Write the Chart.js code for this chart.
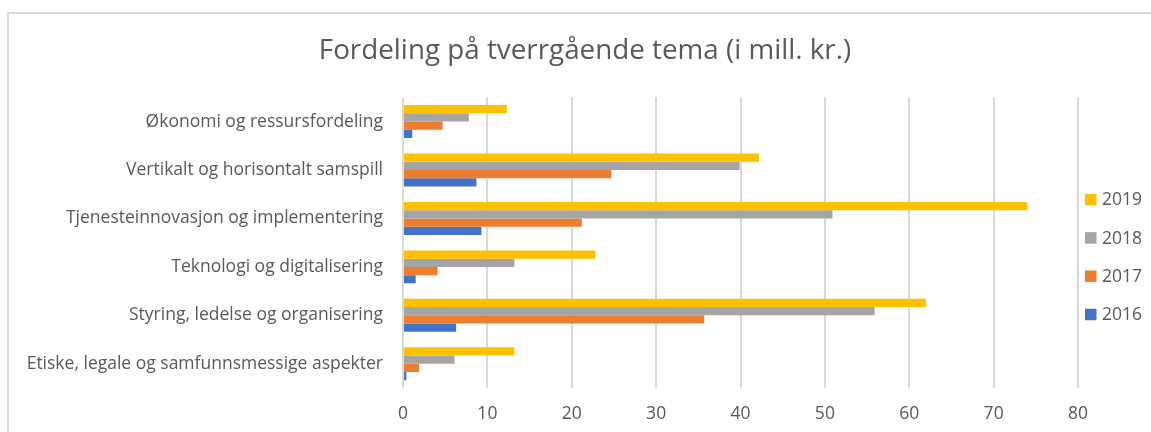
<!DOCTYPE html>
<html lang="no">
<head>
<meta charset="UTF-8">
<title>Fordeling på tverrgående tema</title>
<script src="https://cdn.jsdelivr.net/npm/chart.js@4.4.1/dist/chart.umd.min.js"></script>
<style>
  html, body { margin: 0; padding: 0; background: #fff; }
  #wrap { position: relative; width: 1151px; height: 432px; }
</style>
</head>
<body>
<div id="wrap"><canvas id="tema"></canvas></div>
<script>
const temaer = [
  'Økonomi og ressursfordeling',
  'Vertikalt og horisontalt samspill',
  'Tjenesteinnovasjon og implementering',
  'Teknologi og digitalisering',
  'Styring, ledelse og organisering',
  'Etiske, legale og samfunnsmessige aspekter'
];
const aar2019 = [12.3, 42.2, 74.0, 22.8, 62.0, 13.2];
const aar2018 = [7.8, 39.9, 50.9, 13.2, 55.9, 6.1];
const aar2017 = [4.7, 24.7, 21.2, 4.1, 35.7, 1.9];
const aar2016 = [1.1, 8.7, 9.3, 1.5, 6.3, 0.4];

const tekst = '#595959';
const grid = '#d9d9d9';
const font = "'Open Sans', sans-serif";

// tynn ramme oppe og til venstre
const ramme = {
  id: 'ramme',
  beforeDraw(chart) {
    const c = chart.ctx;
    c.save();
    c.strokeStyle = grid;
    c.lineWidth = 2;
    c.beginPath();
    c.moveTo(8, chart.height);
    c.lineTo(8, 13);
    c.lineTo(chart.width, 13);
    c.stroke();
    c.restore();
  }
};

// egen forklaring til høyre, tettere på plottet enn den innebygde
const forklaring = {
  id: 'forklaring',
  afterDraw(chart) {
    const c = chart.ctx;
    const a = chart.chartArea;
    const x = a.right + 7;
    let y = a.top + 102;
    c.save();
    c.font = "17.5px 'Open Sans', sans-serif";
    c.textBaseline = 'middle';
    chart.data.datasets.forEach(ds => {
      c.fillStyle = ds.backgroundColor;
      c.fillRect(x, y - 5.5, 11.5, 11.5);
      c.fillStyle = tekst;
      c.fillText(ds.label, x + 17, y + 1);
      y += 38.3;
    });
    c.restore();
  }
};

new Chart(document.getElementById('tema'), {
  type: 'bar',
  data: {
    labels: temaer,
    datasets: [
      { label: '2019', data: aar2019, backgroundColor: '#FFC000' },
      { label: '2018', data: aar2018, backgroundColor: '#A5A5A5' },
      { label: '2017', data: aar2017, backgroundColor: '#ED7D31' },
      { label: '2016', data: aar2016, backgroundColor: '#4472C4' }
    ]
  },
  options: {
    indexAxis: 'y',
    responsive: true,
    maintainAspectRatio: false,
    animation: false,
    datasets: { bar: { categoryPercentage: 0.68, barPercentage: 1.0 } },
    layout: { padding: { top: 14, right: 0, bottom: 0, left: 19 } },
    plugins: {
      title: {
        display: true,
        text: 'Fordeling på tverrgående tema (i mill. kr.)',
        color: tekst,
        font: { family: font, size: 27.8, weight: 'normal', lineHeight: 1.2 },
        padding: { top: 20.5, bottom: 29.5 }
      },
      legend: { display: false },
      tooltip: { enabled: false }
    },
    scales: {
      x: {
        min: 0,
        max: 80,
        ticks: { stepSize: 10, color: tekst, font: { family: font, size: 17.5 }, padding: 16 },
        grid: { color: grid, lineWidth: 2, drawTicks: false },
        border: { display: false },
        afterFit(s) { s.height = 44; }
      },
      y: {
        ticks: { color: tekst, font: { family: font, size: 17.5 }, padding: 20 },
        grid: { display: false, drawTicks: false },
        border: { display: false },
        afterFit(s) { s.width = 403 - 19; }
      },
      // tom akse til høyre som gir plass til forklaringen
      plass: {
        type: 'linear',
        position: 'right',
        display: true,
        ticks: { display: false },
        grid: { display: false, drawTicks: false },
        border: { display: false },
        afterFit(s) { s.width = 1151 - 1078; }
      }
    }
  },
  plugins: [ramme, forklaring]
});
</script>
</body>
</html>
